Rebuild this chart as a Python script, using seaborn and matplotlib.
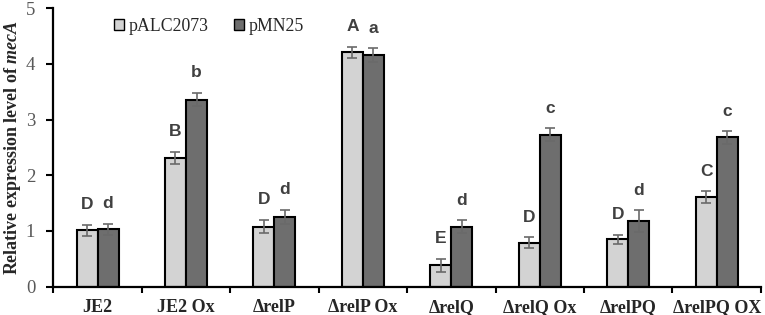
import matplotlib
matplotlib.use("Agg")
import matplotlib.pyplot as plt
import seaborn as sns
import pandas as pd
import numpy as np

strains = ["JE2", "JE2 Ox", "ΔrelP", "ΔrelP Ox", "ΔrelQ", "ΔrelQ Ox", "ΔrelPQ", "ΔrelPQ OX"]
plasmids = ["pALC2073", "pMN25"]
palc_vals = [1.01, 2.31, 1.08, 4.21, 0.38, 0.79, 0.85, 1.61]
palc_err = [0.10, 0.11, 0.12, 0.10, 0.12, 0.10, 0.08, 0.10]
pmn_vals = [1.03, 3.36, 1.25, 4.16, 1.08, 2.73, 1.18, 2.68]
pmn_err = [0.10, 0.12, 0.13, 0.12, 0.11, 0.11, 0.19, 0.11]
palc_letters = ["D", "B", "D", "A", "E", "D", "D", "C"]
pmn_letters = ["d", "b", "d", "a", "d", "c", "d", "c"]

df = pd.DataFrame({
    "strain": strains * 2,
    "plasmid": [plasmids[0]] * len(strains) + [plasmids[1]] * len(strains),
    "value": palc_vals + pmn_vals,
})

sns.set_theme(style="white")
plt.rcParams["font.family"] = ["Liberation Serif", "DejaVu Serif"]
plt.rcParams["mathtext.fontset"] = "custom"
plt.rcParams["mathtext.it"] = "Liberation Serif:italic:bold"

fig = plt.figure(figsize=(7.65, 3.15), dpi=100)
ax = fig.add_axes([0.0697, 0.09, 0.925, 0.884])

sns.barplot(data=df, x="strain", y="value", hue="plasmid", hue_order=plasmids,
            order=strains, palette={"pALC2073": "#D3D3D3", "pMN25": "#6E6E6E"},
            errorbar=None, width=0.475, edgecolor="black", linewidth=1.5, ax=ax)

errs = [palc_err, pmn_err]
letters = [palc_letters, pmn_letters]
for ci, cont in enumerate(ax.containers[:2]):
    for bi, bar in enumerate(cont):
        xc = bar.get_x() + bar.get_width() / 2
        h = bar.get_height()
        e = errs[ci][bi]
        ax.errorbar(xc, h, yerr=e, fmt="none", ecolor="#6a6a6a", elinewidth=1.2,
                    capsize=3.5, capthick=1.2, zorder=5)
        ax.text(xc, h + e + 0.36, letters[ci][bi], ha="center", va="center",
                fontsize=12.5, fontweight="bold", color="#404040",
                family=["Liberation Sans", "DejaVu Sans"])

ax.set_ylim(0, 5)
ax.set_xlim(-0.5, len(strains) - 0.5)
ax.set_yticks(range(6))
ax.set_yticklabels([str(i) for i in range(6)], fontsize=13.5, color="#595959")
ax.set_xticks(range(len(strains)))
ax.set_xticklabels(strains, fontsize=13, fontweight="bold")
ax.set_xticks(np.arange(-0.5, len(strains), 1.0), minor=True)
ax.tick_params(axis="x", which="major", length=0, pad=9)
ax.tick_params(axis="x", which="minor", length=4, width=1.5, color="black", bottom=True)
ax.tick_params(axis="y", which="major", length=5, width=1.5, color="black", left=True, pad=8)
ax.set_xlabel("")
ax.set_ylabel(r"Relative expression level of $\mathit{mecA}$", fontsize=13,
              fontweight="bold")
ax.yaxis.set_label_coords(-0.043, 0.5)

for s in ["top", "right"]:
    ax.spines[s].set_visible(False)
for s in ["left", "bottom"]:
    ax.spines[s].set_color("black")
    ax.spines[s].set_linewidth(1.6)

leg = ax.legend(loc="center left", bbox_to_anchor=(0.075, 0.935), ncol=2, frameon=False,
                fontsize=12.8, handlelength=0.6, handleheight=0.6, handletextpad=0.25,
                columnspacing=1.4, borderaxespad=0)
for p in leg.get_patches():
    p.set_edgecolor("black")
    p.set_linewidth(1.0)

fig.savefig("out.png", dpi=100)
